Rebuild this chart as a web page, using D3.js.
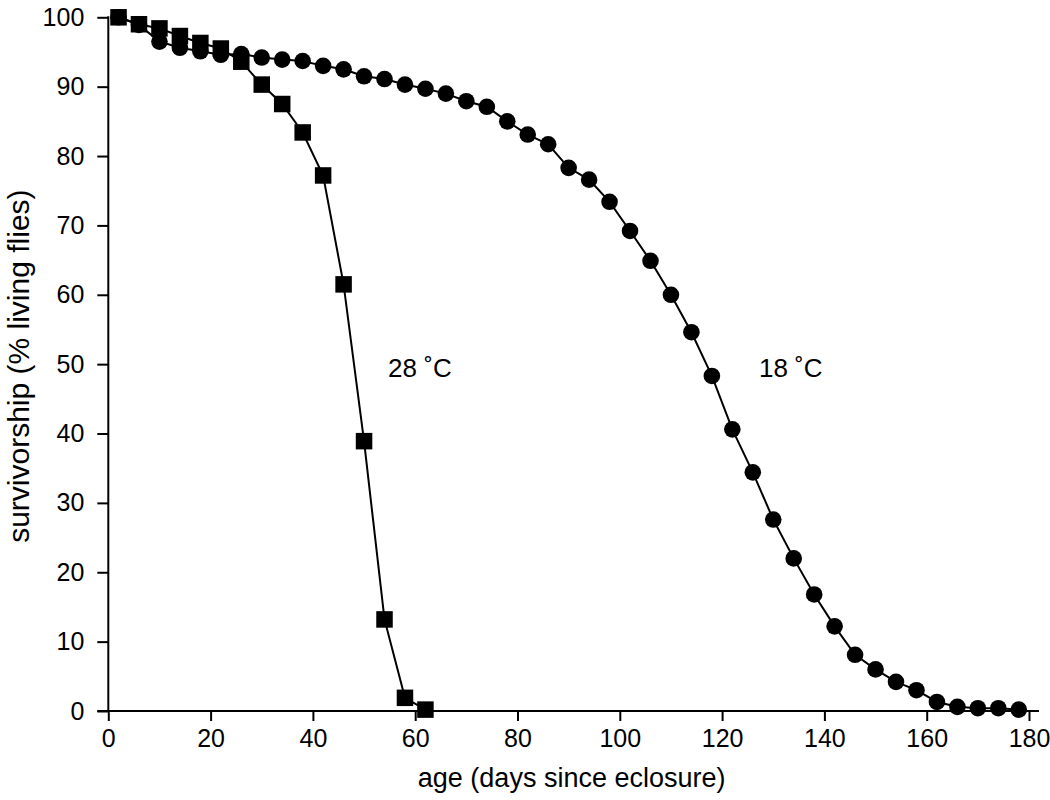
<!DOCTYPE html>
<html>
<head>
<meta charset="utf-8">
<script src="https://cdn.jsdelivr.net/npm/d3@7"></script>
<style>
  html, body { margin: 0; padding: 0; background: #fff; }
  svg text { font-family: "Liberation Sans", Arial, sans-serif; fill: #000; }
</style>
</head>
<body>
<svg id="chart" width="1050" height="800"></svg>
<script>
// ---- data ----
const days18 = [2,6,10,14,18,22,26,30,34,38,42,46,50,54,58,62,66,70,74,78,82,86,90,94,98,102,106,110,114,118,122,126,130,134,138,142,146,150,154,158,162,166,170,174,178];
const surv18 = [100,98.9,96.5,95.6,95.1,94.6,94.7,94.2,93.9,93.7,93.0,92.5,91.5,91.1,90.3,89.7,89.0,87.9,87.1,85.0,83.1,81.7,78.3,76.6,73.4,69.2,64.9,60.0,54.6,48.3,40.6,34.4,27.6,22.0,16.8,12.2,8.1,6.0,4.2,3.0,1.3,0.6,0.4,0.4,0.2];
const days28 = [2,6,10,14,18,22,26,30,34,38,42,46,50,54,58,62];
const surv28 = [100,99.0,98.4,97.3,96.3,95.5,93.6,90.3,87.5,83.4,77.2,61.5,38.9,13.2,1.9,0.2];
const xTicks = [0,20,40,60,80,100,120,140,160,180];
const yTicks = [0,10,20,30,40,50,60,70,80,90,100];
const labels = [{text: "28 \u02DAC", day: 54.7, value: 49.4}, {text: "18 \u02DAC", day: 127.2, value: 49.4}];
const xTitle = "age (days since eclosure)";
const yTitle = "survivorship (% living flies)";

// ---- scales ----
const svg = d3.select("#chart");
const x = d3.scaleLinear().domain([0, 180]).range([108.3, 1029]);
const y = d3.scaleLinear().domain([0, 100]).range([711, 17.3]);

const g = svg.append("g");

// axes
const xAxis = d3.axisBottom(x).tickValues(xTicks).tickSize(10).tickSizeOuter(0).tickPadding(8);
const yAxis = d3.axisLeft(y).tickValues(yTicks).tickSize(11).tickSizeOuter(0).tickPadding(13);

const gx = g.append("g").attr("transform", `translate(0,${y(0)})`).call(xAxis);
const gy = g.append("g").attr("transform", `translate(${x(0)},0)`).call(yAxis);
[gx, gy].forEach(a => {
  a.selectAll(".domain").remove();
  a.selectAll(".tick line").attr("stroke", "#000").attr("stroke-width", 2);
  a.selectAll(".tick text").attr("font-size", 25).attr("fill", "#000")
    .attr("font-family", "'Liberation Sans', Arial, sans-serif");
});
gx.selectAll(".tick text").attr("dy", "0.71em");
// axis lines
g.append("line").attr("x1", x(0) - 11).attr("x2", x(180) + 10)
  .attr("y1", y(0)).attr("y2", y(0)).attr("stroke", "#000").attr("stroke-width", 2);
g.append("line").attr("x1", x(0)).attr("x2", x(0))
  .attr("y1", y(100) - 1).attr("y2", y(0)).attr("stroke", "#000").attr("stroke-width", 2);

// titles
g.append("text").attr("x", (x(0) + x(180)) / 2 + 3).attr("y", 787)
  .attr("text-anchor", "middle").attr("font-size", 27).text(xTitle);
g.append("text").attr("transform", `translate(29,${(y(0) + y(100)) / 2 + 2}) rotate(-90)`)
  .attr("text-anchor", "middle").attr("font-size", 30).text(yTitle);

// lines
const line = d3.line().x(d => x(d[0])).y(d => y(d[1]));
const pts18 = days18.map((d, i) => [d, surv18[i]]);
const pts28 = days28.map((d, i) => [d, surv28[i]]);

g.append("path").datum(pts18).attr("d", line).attr("fill", "none").attr("stroke", "#000").attr("stroke-width", 2);
g.append("path").datum(pts28).attr("d", line).attr("fill", "none").attr("stroke", "#000").attr("stroke-width", 2);

g.selectAll("circle.c18").data(pts18).enter().append("circle")
  .attr("class", "c18").attr("cx", d => x(d[0])).attr("cy", d => y(d[1])).attr("r", 8.3).attr("fill", "#000");

const sq = 16.5;
g.selectAll("rect.s28").data(pts28).enter().append("rect")
  .attr("class", "s28").attr("x", d => x(d[0]) - sq / 2).attr("y", d => y(d[1]) - sq / 2)
  .attr("width", sq).attr("height", sq).attr("fill", "#000");

// labels
g.selectAll("text.lab").data(labels).enter().append("text").attr("class", "lab")
  .attr("x", d => x(d.day)).attr("y", d => y(d.value)).attr("dy", "0.35em")
  .attr("font-size", 26).text(d => d.text);
</script>
</body>
</html>
